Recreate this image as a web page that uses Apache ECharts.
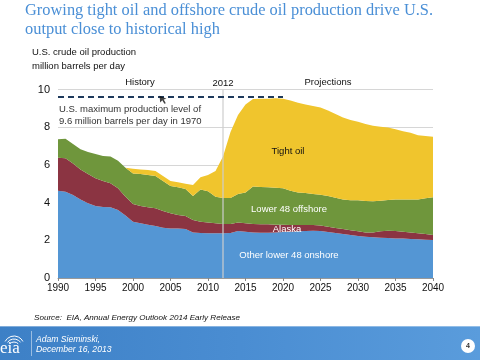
<!DOCTYPE html>
<html>
<head>
<meta charset="utf-8">
<script src="https://cdn.jsdelivr.net/npm/echarts@6/dist/echarts.min.js"></script>
<style>
html,body{margin:0;padding:0;background:#fff;}
#c{width:480px;height:360px;}
</style>
</head>
<body>
<div id="c"></div>
<script>
var years = [];
for (var y = 1990; y <= 2040; y++) years.push(String(y));

var onshore = [4.63,4.58,4.40,4.17,3.96,3.82,3.77,3.75,3.61,3.31,2.99,2.90,2.83,2.76,2.67,2.62,2.62,2.60,2.42,2.39,2.37,2.37,2.37,2.39,2.49,2.46,2.42,2.40,2.40,2.42,2.44,2.46,2.48,2.49,2.51,2.49,2.44,2.39,2.33,2.28,2.23,2.19,2.16,2.14,2.12,2.10,2.09,2.07,2.05,2.03,2.02];
var alaska = [1.75,1.77,1.68,1.59,1.56,1.47,1.38,1.27,1.15,1.00,0.94,0.92,0.92,0.94,0.88,0.81,0.72,0.69,0.66,0.60,0.57,0.53,0.49,0.47,0.45,0.44,0.44,0.45,0.45,0.41,0.39,0.35,0.33,0.32,0.30,0.30,0.28,0.26,0.27,0.25,0.25,0.23,0.26,0.34,0.39,0.39,0.37,0.35,0.32,0.30,0.26];
var offshore = [0.98,1.04,1.03,1.07,1.16,1.29,1.32,1.42,1.46,1.54,1.62,1.70,1.71,1.71,1.60,1.45,1.47,1.43,1.27,1.71,1.66,1.41,1.38,1.38,1.52,1.63,1.99,1.98,1.96,1.96,1.93,1.82,1.73,1.70,1.65,1.63,1.63,1.61,1.57,1.59,1.64,1.66,1.65,1.62,1.63,1.67,1.70,1.75,1.80,1.90,2.00];
var tight = [0,0,0,0,0,0,0,0,0,0,0.25,0.24,0.27,0.27,0.26,0.27,0.27,0.28,0.58,0.64,0.86,1.37,2.21,3.51,4.19,4.67,4.65,4.68,4.70,4.74,4.75,4.78,4.76,4.70,4.66,4.62,4.53,4.44,4.35,4.26,4.17,4.09,4.01,3.93,3.84,3.73,3.62,3.54,3.40,3.30,3.22];

var maxLevel = 9.6;
var maxYears = ['1990', '2020'];
var markerPoint = ['2004', 9.45];
var dividerYear = '2012';

var seriesNames = ['Other lower 48 onshore', 'Alaska', 'Lower 48 offshore', 'Tight oil'];
var seriesData = [onshore, alaska, offshore, tight];
var colors = ['#5496d4', '#8b3442', '#6f963c', '#f0c52d'];

var series = seriesData.map(function(d, i){
  return {
    name: seriesNames[i], type: 'line', stack: 'total', data: d,
    showSymbol: false, symbol: 'none', smooth: false,
    lineStyle: {width: 0}, areaStyle: {color: colors[i], opacity: 1},
    itemStyle: {color: colors[i]}, z: 2, silent: true
  };
});
series.push({
  type: 'line', data: maxYears.map(function(yr){ return [yr, maxLevel]; }),
  symbol: 'none', lineStyle: {color: '#1e3a5c', width: 2, type: [6,4]}, z: 5, silent: true,
  markLine: {
    silent: true, symbol: 'none', label: {show: false},
    lineStyle: {color: 'rgba(205,205,205,0.8)', width: 1.5, type: 'solid'},
    data: [{xAxis: dividerYear}]
  }
});
series.push({
  type: 'scatter', data: [markerPoint],
  symbol: 'path://M0,0 L10,4 L6,5 L9,10 L7,11 L4,6 L1,9 Z', symbolSize: [7,8],
  itemStyle: {color: '#111'}, z: 6, silent: true
});

var chart = echarts.init(document.getElementById('c'), null, {renderer: 'canvas'});
var sans = 'Liberation Sans, Arial, sans-serif';
chart.setOption({
  animation: false,
  backgroundColor: '#fff',
  grid: {left: 58, right: 47, top: 89.5, bottom: 82, containLabel: false},
  xAxis: {
    type: 'category', data: years, boundaryGap: false,
    axisLine: {show: true, lineStyle: {color: '#999', width: 1}},
    axisTick: {show: true, length: 3, interval: 4, alignWithLabel: true, lineStyle: {color: '#888'}},
    axisLabel: {color: '#111', fontSize: 10, fontFamily: sans, margin: 5, interval: 4, showMaxLabel: true},
    splitLine: {show: false}
  },
  yAxis: {
    type: 'value', min: 0, max: 10, interval: 2,
    axisLine: {show: false}, axisTick: {show: false},
    axisLabel: {color: '#111', fontSize: 11, fontFamily: sans, margin: 8},
    splitLine: {show: true, lineStyle: {color: '#d6d6d6', width: 1}}
  },
  series: series,
  graphic: [
    {type: 'text', left: 25, top: 3, style: {text: 'Growing tight oil and offshore crude oil production drive U.S.', fill: '#4a8fd6', font: '16.4px "Liberation Serif", "Times New Roman", serif'}},
    {type: 'text', left: 25, top: 22, style: {text: 'output close to historical high', fill: '#4a8fd6', font: '16.4px "Liberation Serif", "Times New Roman", serif'}},
    {type: 'text', left: 32, top: 47.5, style: {text: 'U.S. crude oil production', fill: '#111', font: '9.5px ' + sans}},
    {type: 'text', left: 32, top: 61.5, style: {text: 'million barrels per day', fill: '#111', font: '9.5px ' + sans}},
    {type: 'text', x: 140, y: 82, style: {text: 'History', fill: '#111', font: '9.5px ' + sans, align: 'center', verticalAlign: 'middle'}},
    {type: 'text', x: 223, y: 83, style: {text: '2012', fill: '#111', font: '9.5px ' + sans, align: 'center', verticalAlign: 'middle'}},
    {type: 'text', x: 328, y: 82, style: {text: 'Projections', fill: '#111', font: '9.5px ' + sans, align: 'center', verticalAlign: 'middle'}},
    {type: 'text', x: 59, y: 109, style: {text: 'U.S. maximum production level of', fill: '#333', font: '9.5px ' + sans, verticalAlign: 'middle'}},
    {type: 'text', x: 59, y: 121, style: {text: '9.6 million barrels per day in 1970', fill: '#333', font: '9.5px ' + sans, verticalAlign: 'middle'}},
    {type: 'text', x: 288, y: 151, z: 10, style: {text: 'Tight oil', fill: '#111', font: '9.5px ' + sans, align: 'center', verticalAlign: 'middle'}},
    {type: 'text', x: 289, y: 209, z: 10, style: {text: 'Lower 48 offshore', fill: '#fff', font: '9.5px ' + sans, align: 'center', verticalAlign: 'middle'}},
    {type: 'text', x: 287, y: 229, z: 10, style: {text: 'Alaska', fill: '#fff', font: '9.5px ' + sans, align: 'center', verticalAlign: 'middle'}},
    {type: 'text', x: 289, y: 255, z: 10, style: {text: 'Other lower 48 onshore', fill: '#fff', font: '9.5px ' + sans, align: 'center', verticalAlign: 'middle'}},
    {type: 'text', x: 34, y: 318, style: {text: 'Source:  EIA, Annual Energy Outlook 2014 Early Release', fill: '#111', font: 'italic 8.1px ' + sans, verticalAlign: 'middle'}},
    {type: 'rect', shape: {x: 0, y: 326, width: 480, height: 34}, z: 0,
      style: {fill: new echarts.graphic.LinearGradient(0, 0, 1, 0, [{offset: 0, color: '#3d80c6'}, {offset: 0.5, color: '#4a8dd2'}, {offset: 1, color: '#5a9cdc'}])}},
    {type: 'rect', shape: {x: 0, y: 326, width: 480, height: 1}, z: 1, style: {fill: 'rgba(255,255,255,0.35)'}},
    {type: 'text', x: 0, y: 349, z: 2, style: {text: 'eia', fill: '#fff', font: '17px "Liberation Serif", serif', verticalAlign: 'middle'}},
    {type: 'arc', shape: {cx: 14, cy: 346, r: 10, startAngle: Math.PI * 1.15, endAngle: Math.PI * 1.85}, z: 2, style: {stroke: '#fff', fill: null, lineWidth: 1}},
    {type: 'arc', shape: {cx: 14, cy: 347, r: 8, startAngle: Math.PI * 1.2, endAngle: Math.PI * 1.8}, z: 2, style: {stroke: '#fff', fill: null, lineWidth: 1}},
    {type: 'arc', shape: {cx: 14, cy: 348, r: 6, startAngle: Math.PI * 1.25, endAngle: Math.PI * 1.75}, z: 2, style: {stroke: '#fff', fill: null, lineWidth: 1}},
    {type: 'rect', shape: {x: 31, y: 331, width: 0.8, height: 25}, z: 2, style: {fill: 'rgba(255,255,255,0.6)'}},
    {type: 'text', x: 36, y: 340, z: 2, style: {text: 'Adam Sieminski,', fill: '#fff', font: 'italic 8.6px ' + sans, verticalAlign: 'middle'}},
    {type: 'text', x: 36, y: 350, z: 2, style: {text: 'December 16, 2013', fill: '#fff', font: 'italic 8.6px ' + sans, verticalAlign: 'middle'}},
    {type: 'circle', shape: {cx: 468, cy: 346, r: 7}, z: 2, style: {fill: '#fff'}},
    {type: 'text', x: 468, y: 346.5, z: 3, style: {text: '4', fill: '#333', font: 'bold 7px ' + sans, align: 'center', verticalAlign: 'middle'}}
  ]
});
</script>
</body>
</html>
